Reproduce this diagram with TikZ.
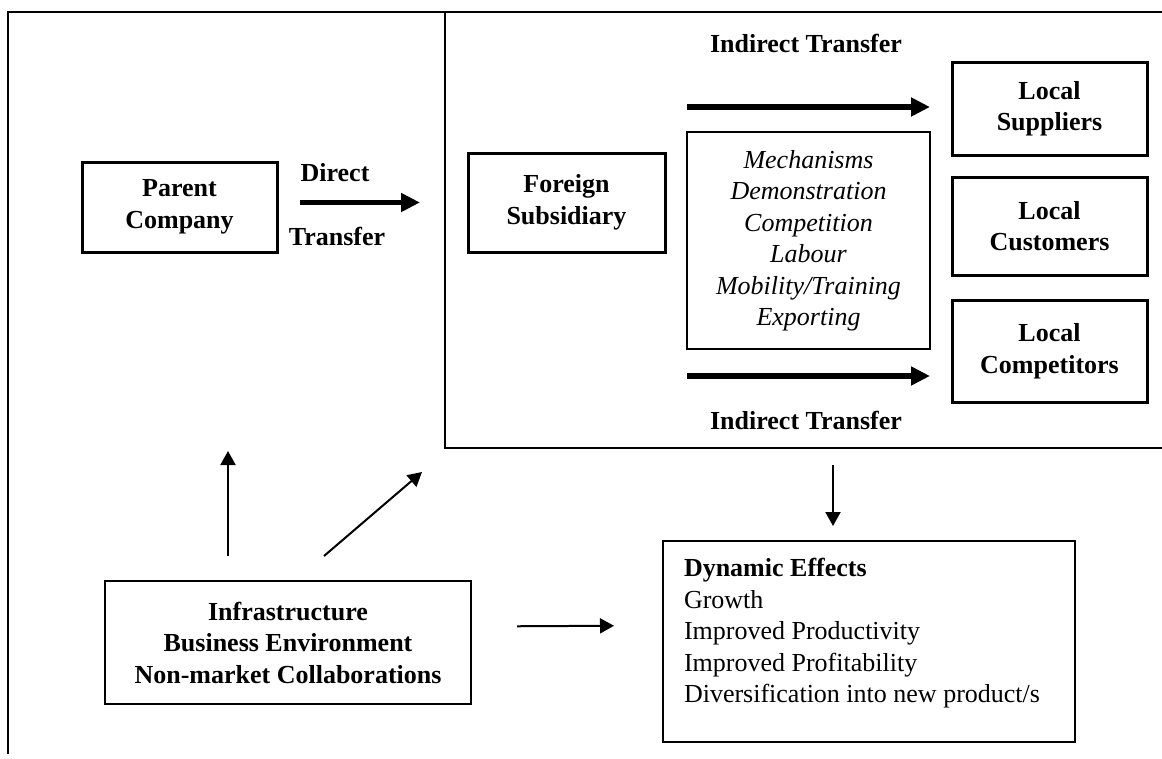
\documentclass[tikz,border=0pt]{standalone}
\usepackage{fontspec}
\setmainfont{Liberation Serif}
\usetikzlibrary{arrows.meta}
\newcommand{\diagsize}{\fontsize{26}{31.5}\selectfont}
\tikzset{
  frame/.style={line width=2pt},
  arr/.style={-{Triangle[length=14pt,width=15pt]}, line width=2pt},
  bigarr/.style={-{Triangle[length=19pt,width=18pt]}, line width=5.5pt},
  tag/.style={font=\diagsize\bfseries, inner sep=0pt},
  box/.style={draw, line width=3pt, inner sep=0pt, outer sep=0pt,
    minimum width=195pt, align=center, font=\diagsize\bfseries},
  mechbox/.style={draw, line width=2pt, inner sep=0pt, outer sep=0pt,
    minimum width=243pt, minimum height=217pt, align=center, font=\diagsize\itshape},
  envbox/.style={draw, line width=2pt, inner sep=0pt, outer sep=0pt,
    minimum width=366pt, minimum height=123pt, align=center, font=\diagsize\bfseries},
  effbox/.style={draw, line width=2pt, inner xsep=21pt, inner ysep=0pt, outer sep=0pt,
    minimum width=412pt, minimum height=201pt, font=\diagsize}
}

\begin{document}
\begin{tikzpicture}[x=1pt,y=-1pt]
  \useasboundingbox[fill=white] (0,0) rectangle (1162,758);
  \draw[frame] (8,754) -- (8,12) -- (1162,12);
  \draw[frame] (445,12) -- (445,448) -- (1162,448);

  \node[box, minimum height=90pt] (parent) at (179.5,207) {Parent\\Company};
  \node[box, minimum width=197pt, minimum height=99pt] (foreign) at (566.5,202.5) {Foreign\\Subsidiary};
  \node[tag] (direct) at (335,173) {Direct};
  \node[tag] (transfer) at (337,236) {Transfer};
  \draw[bigarr, shorten <=23pt, shorten >=48pt] (parent.east |- foreign.west) -- (foreign.west);

  \node[mechbox] (mech) at (808.5,240.5) {Mechanisms\\Demonstration\\Competition\\Labour\\Mobility/Training\\Exporting};
  \node[tag] (indtop) at (806,43) {Indirect Transfer};
  \node[tag] (indbot) at (806,420) {Indirect Transfer};
  \draw[bigarr] ([yshift=25pt]mech.north west) -- ([yshift=25pt]mech.north east);
  \draw[bigarr] ([yshift=-27pt]mech.south west) -- ([yshift=-27pt]mech.south east);

  \foreach \y/\h/\n/\t in {108.5/93/sup/Suppliers,226/98/cus/Customers,351/102/com/Competitors}{
    \node[box, minimum height=\h pt] (\n) at (1049.5,\y) {Local\\\t};
  }

  \node[envbox] (infra) at (288,642.5) {Infrastructure\\Business Environment\\Non-market Collaborations};
  \node[effbox] (dyn) at (869,641.5) {\raisebox{8pt}[\height][\depth]{\parbox{370pt}{\textbf{Dynamic Effects}\\Growth\\Improved Productivity\\Improved Profitability\\Diversification into new product/s}}};

  \coordinate (upTip) at (228,451);
  \coordinate (diagTip) at (422,472);
  \draw[arr] ([shift={(-60pt,25pt)}]infra.north) -- (upTip);
  \draw[arr] ([shift={(36pt,25pt)}]infra.north) -- (diagTip);
  \draw[arr, shorten <=46pt, shorten >=49pt] ([yshift=16pt]infra.east) -- ([yshift=16pt]dyn.west);
  \draw[arr] ([shift={(-36pt,76pt)}]dyn.north) -- ([shift={(-36pt,15pt)}]dyn.north);
\end{tikzpicture}
\end{document}
